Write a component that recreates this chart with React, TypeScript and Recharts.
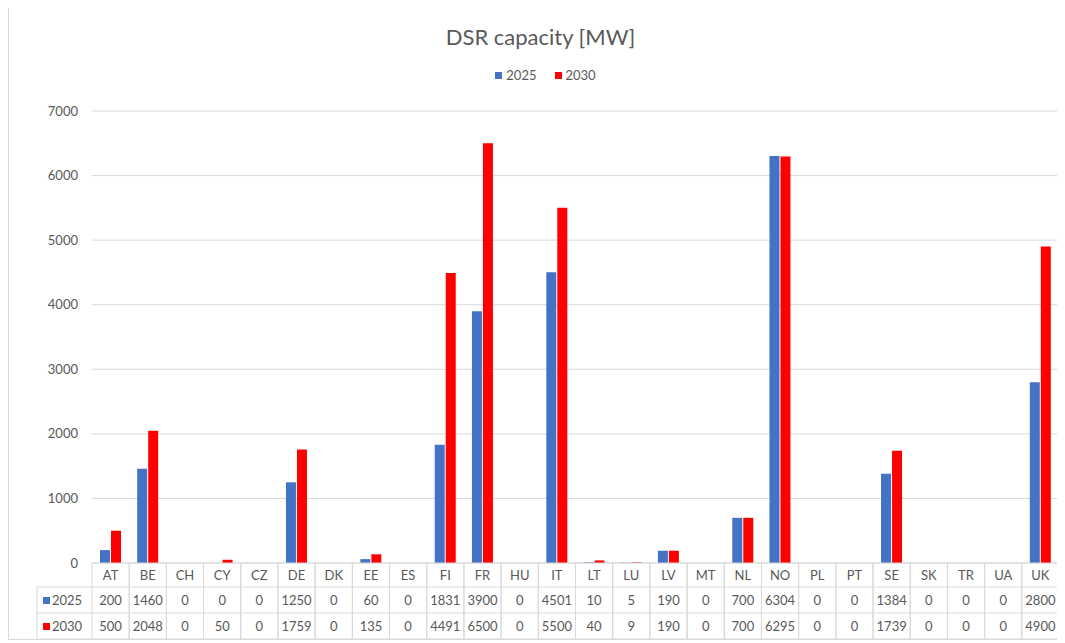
import { Bar, BarChart, CartesianGrid, XAxis, YAxis } from 'recharts';

const countries = ['AT', 'BE', 'CH', 'CY', 'CZ', 'DE', 'DK', 'EE', 'ES', 'FI', 'FR', 'HU', 'IT', 'LT', 'LU', 'LV', 'MT', 'NL', 'NO', 'PL', 'PT', 'SE', 'SK', 'TR', 'UA', 'UK'];
const cap2025 = [200, 1460, 0, 0, 0, 1250, 0, 60, 0, 1831, 3900, 0, 4501, 10, 5, 190, 0, 700, 6304, 0, 0, 1384, 0, 0, 0, 2800];
const cap2030 = [500, 2048, 0, 50, 0, 1759, 0, 135, 0, 4491, 6500, 0, 5500, 40, 9, 190, 0, 700, 6295, 0, 0, 1739, 0, 0, 0, 4900];
const yTicks = [0, 1000, 2000, 3000, 4000, 5000, 6000, 7000];

const series = [
  { key: 'y2025', name: '2025', color: '#4472C4', values: cap2025 },
  { key: 'y2030', name: '2030', color: '#FF0000', values: cap2030 }
];

const W = 1065;
const H = 643;
const AXIS_W = 92;
const RIGHT = 6;
const TABLE_H = 80;
const COL_W = (W - AXIS_W - RIGHT) / countries.length;
const ROWS = [24, 26, 26];
const LINE = '#d9d9d9';
const TEXT = '#595959';
const FONT = 'Lato, "Open Sans", sans-serif';

const data = countries.map((c, i) => ({
  name: c,
  y2025: cap2025[i],
  y2030: cap2030[i]
}));

// x axis ticks double as the data table under the plot
function TableTick(props: any) {
  const { x, y, payload } = props;
  const i = payload.index;
  const left = x - COL_W / 2;
  const r1 = y + ROWS[0];
  const r2 = r1 + ROWS[1];
  const r3 = r2 + ROWS[2];
  const legendLeft = 37;
  return (
    <g fontFamily={FONT} fontSize={13} fill={TEXT}>
      <line x1={left} y1={y} x2={left} y2={r3} stroke={LINE} />
      <line x1={left + COL_W} y1={y} x2={left + COL_W} y2={r3} stroke={LINE} />
      <line x1={left} y1={y} x2={left + COL_W} y2={y} stroke={LINE} />
      <line x1={left} y1={r1} x2={left + COL_W} y2={r1} stroke={LINE} />
      <line x1={left} y1={r2} x2={left + COL_W} y2={r2} stroke={LINE} />
      <line x1={left} y1={r3} x2={left + COL_W} y2={r3} stroke={LINE} />
      <text x={x} y={y + ROWS[0] / 2 + 5} textAnchor="middle">{payload.value}</text>
      {series.map((s, k) => (
        <text key={s.key} x={x} y={(k === 0 ? r1 : r2) + ROWS[1] / 2 + 5} textAnchor="middle">
          {s.values[i]}
        </text>
      ))}
      {i === 0 && (
        <g>
          <line x1={legendLeft} y1={r1} x2={left} y2={r1} stroke={LINE} />
          <line x1={legendLeft} y1={r2} x2={left} y2={r2} stroke={LINE} />
          <line x1={legendLeft} y1={r3} x2={left} y2={r3} stroke={LINE} />
          <line x1={legendLeft} y1={r1} x2={legendLeft} y2={r3} stroke={LINE} />
          {series.map((s, k) => {
            const top = k === 0 ? r1 : r2;
            return (
              <g key={s.key}>
                <rect x={legendLeft + 6} y={top + ROWS[1] / 2 - 3} width={7} height={7} fill={s.color} />
                <text x={legendLeft + 15} y={top + ROWS[1] / 2 + 5}>{s.name}</text>
              </g>
            );
          })}
        </g>
      )}
    </g>
  );
}

export default function App() {
  return (
    <div style={{ position: 'relative', width: W, height: H, margin: '-8px 0 0 -8px', background: '#fff', fontFamily: FONT }}>
      <div style={{ position: 'absolute', left: 8, top: 5, width: W - 12, height: H - 8, border: `1px solid ${LINE}`, boxSizing: 'border-box' }} />
      <div style={{ position: 'absolute', top: 23, left: 8, width: W, textAlign: 'center', fontSize: 22, color: TEXT }}>
        DSR capacity [MW]
      </div>
      <div style={{ position: 'absolute', top: 67, left: 0, width: W + 26, display: 'flex', justifyContent: 'center', gap: 18, fontSize: 13, color: TEXT }}>
        {series.map((s) => (
          <span key={s.key} style={{ display: 'flex', alignItems: 'center', gap: 4 }}>
            <span style={{ width: 7, height: 7, background: s.color, display: 'inline-block' }} />
            {s.name}
          </span>
        ))}
      </div>
      <BarChart
        width={W}
        height={H}
        data={data}
        margin={{ top: 111, right: RIGHT, bottom: 0, left: 0 }}
        barSize={10}
        barGap={1}
        style={{ position: 'absolute', top: 0, left: 0 }}
      >
        <CartesianGrid vertical={false} stroke={LINE} />
        <XAxis
          dataKey="name"
          interval={0}
          height={TABLE_H}
          axisLine={false}
          tickLine={false}
          tickSize={0}
          tickMargin={0}
          tick={<TableTick />}
        />
        <YAxis
          width={AXIS_W}
          domain={[0, 7000]}
          ticks={yTicks}
          axisLine={false}
          tickLine={false}
          tickSize={0}
          tickMargin={14}
          tick={{ fill: TEXT, fontSize: 13, fontFamily: FONT }}
        />
        {series.map((s) => (
          <Bar key={s.key} dataKey={s.key} name={s.name} fill={s.color} isAnimationActive={false} />
        ))}
      </BarChart>
    </div>
  );
}
